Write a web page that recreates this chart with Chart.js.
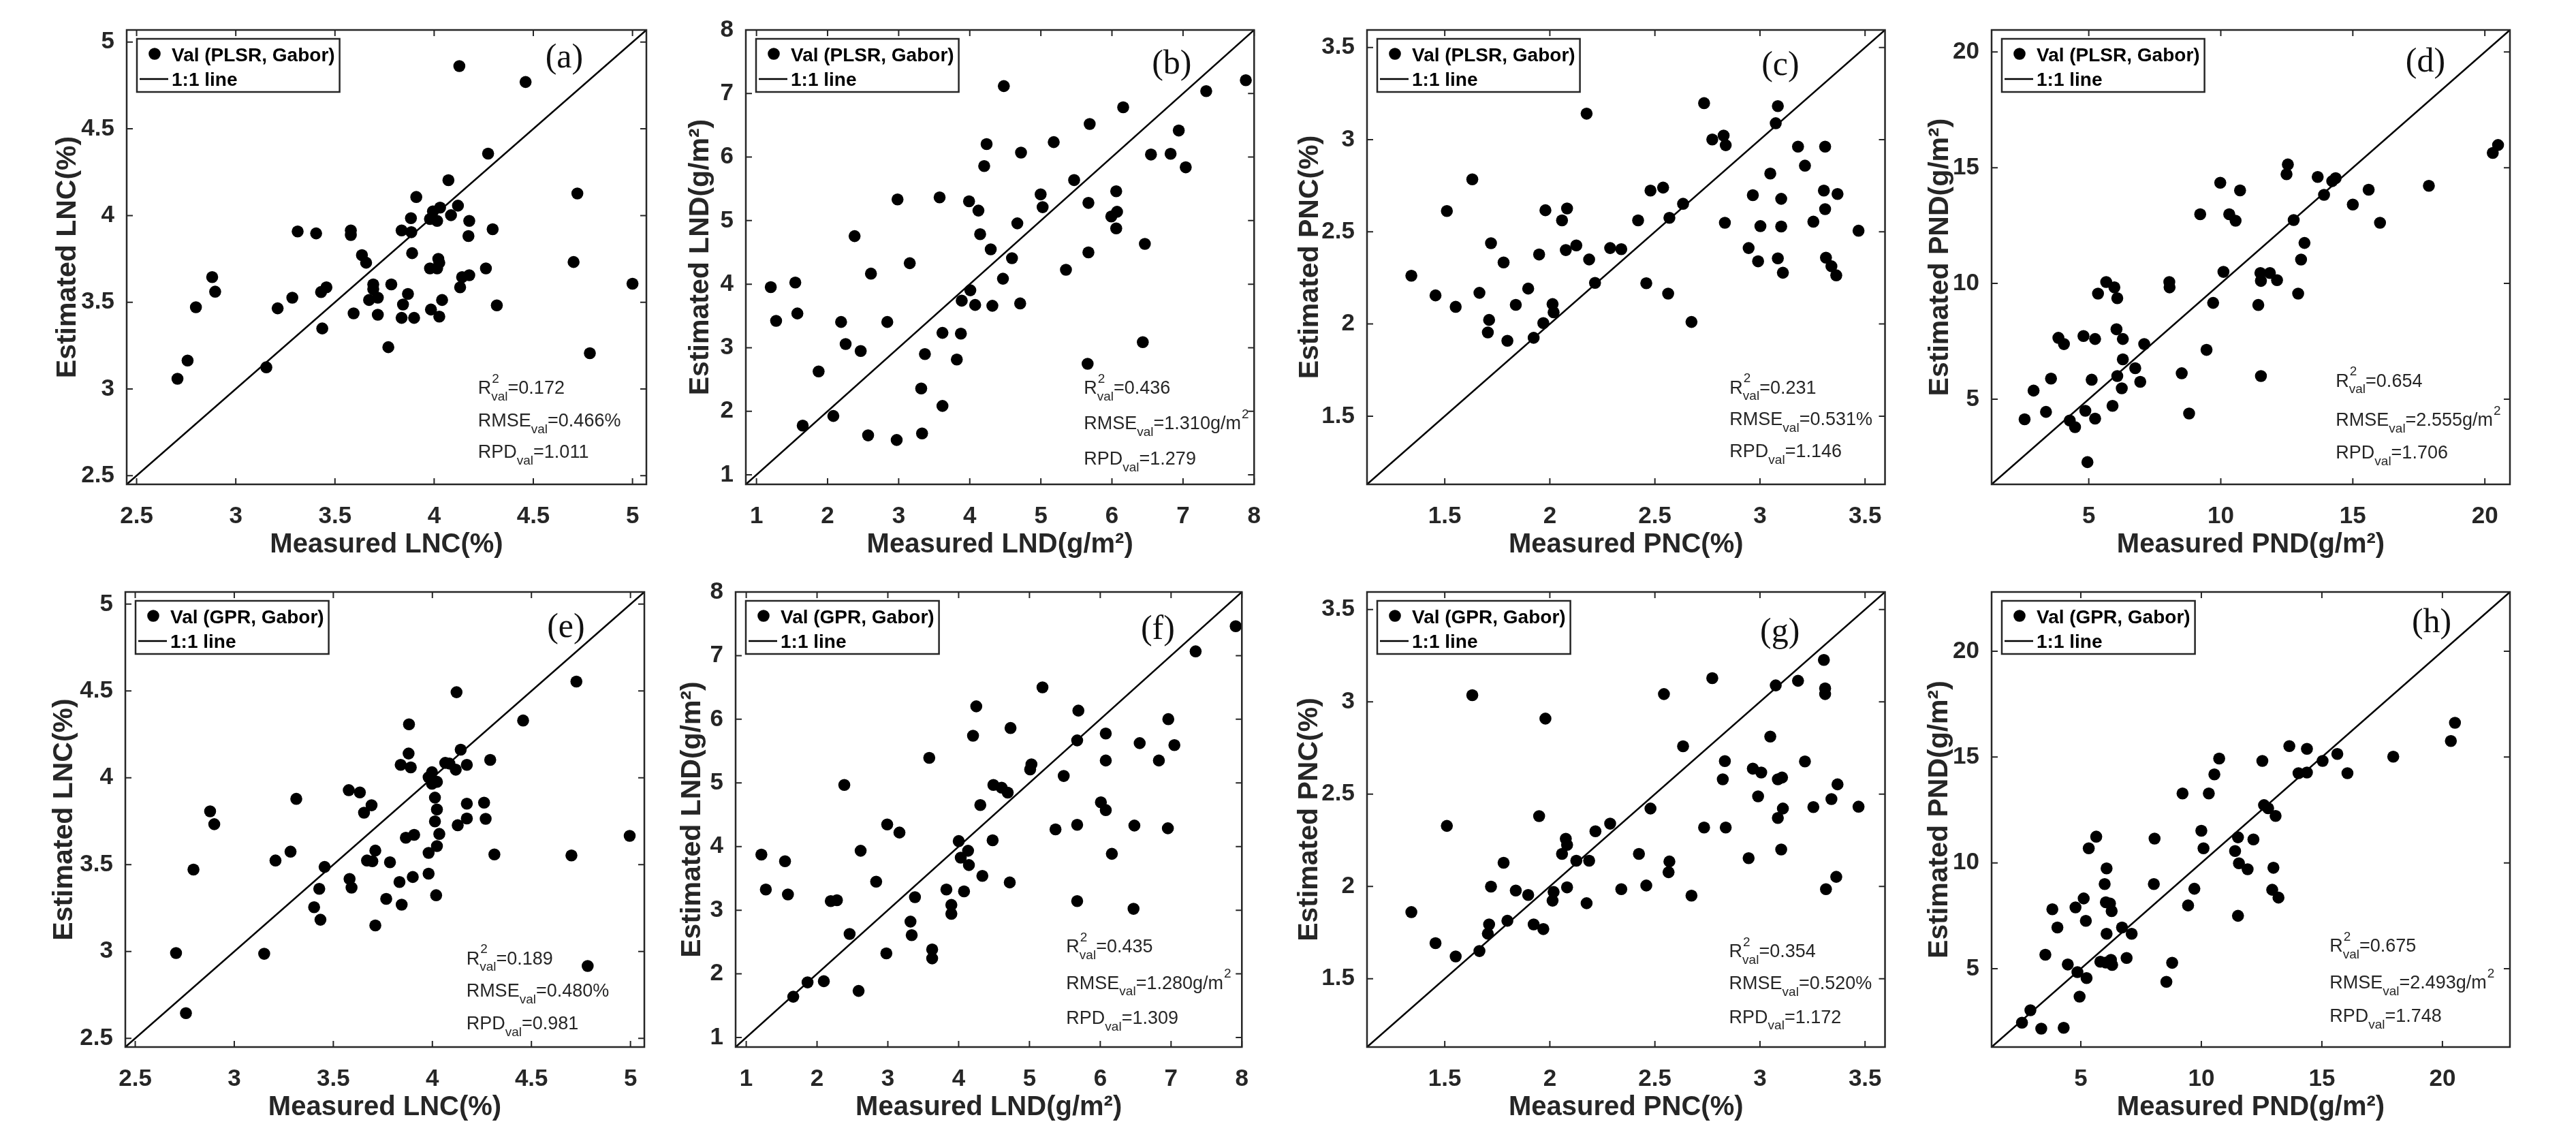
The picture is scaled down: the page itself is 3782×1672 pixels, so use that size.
<!DOCTYPE html>
<html>
<head>
<meta charset="utf-8">
<script src="https://cdn.jsdelivr.net/npm/chart.js@4.4.1/dist/chart.umd.min.js"></script>
<style>
html,body{margin:0;padding:0;background:#fff;}
#wrap{position:relative;width:3782px;height:1672px;background:#fff;overflow:hidden;}
#wrap canvas{position:absolute;}
</style>
</head>
<body>
<div id="wrap"></div>
<script>
// ---------------- DATA ----------------
// (a) LNC, PLSR
const lncMeasPLSR = [4.127,4.461,4.272,4.072,3.910,4.722,4.120,4.030,3.994,4.085,3.979,3.883,4.015,4.177,3.836,3.885,4.295,4.173,3.312,3.405,3.580,3.580,3.889,3.636,3.657,4.021,3.979,4.015,4.026,4.261,4.703,2.881,2.896,2.799,3.211,3.285,3.430,3.457,3.693,3.693,3.784,3.672,3.716,3.868,3.843,3.594,3.716,3.836,3.899,3.984,4.026,4.040,4.131,4.141,4.177,4.316,5.000,3.436,3.769,4.785,3.154,2.757,2.706];
const lncEstPLSR  = [4.862,4.770,4.357,4.204,4.107,4.127,4.057,4.046,4.024,4.002,3.980,3.985,3.969,3.969,3.914,3.904,3.921,3.882,3.908,3.897,3.914,3.888,3.783,3.772,3.728,3.750,3.695,3.695,3.728,3.695,3.732,3.645,3.561,3.471,3.465,3.526,3.559,3.586,3.603,3.575,3.603,3.513,3.526,3.548,3.487,3.436,3.428,3.410,3.410,3.458,3.417,3.513,3.586,3.645,3.656,3.482,3.607,3.349,3.241,3.206,3.125,3.164,3.059];
// (b) LND, PLSR
const lndMeasPLSR = [4.479,7.883,7.326,6.158,5.687,6.940,4.237,5.181,4.721,6.549,6.825,4.203,7.038,5.468,2.984,3.576,3.990,4.997,5.025,4.122,5.669,6.060,5.991,6.072,6.060,4.669,4.146,2.380,4.295,6.463,5.669,4.594,3.156,2.610,5.353,4.467,1.546,1.201,4.008,3.887,4.076,4.318,4.709,1.575,1.276,2.190,2.840,3.616,3.875,2.254,2.466,3.369,3.818,6.434,1.874,3.317,5.658,3.616,2.081,1.650,2.570,3.329,2.972];
const lndEstPLSR  = [7.117,7.209,7.038,6.783,6.521,6.418,6.205,6.235,6.071,6.040,6.052,5.858,5.839,5.638,5.334,5.365,5.304,5.413,5.212,5.158,5.279,5.462,5.066,5.139,4.878,4.957,4.786,4.756,4.549,4.634,4.500,4.409,4.330,4.166,4.226,4.086,4.026,3.953,3.904,3.740,3.673,3.660,3.697,3.539,3.423,3.405,3.405,3.234,3.222,3.058,2.948,2.900,2.814,3.088,2.626,2.358,2.747,2.084,1.926,1.774,1.621,1.652,1.548];
// (c) PNC, PLSR
const pncMeasPLSR = [2.734,2.175,3.085,3.075,2.773,2.827,2.837,3.181,3.310,3.214,3.049,1.631,2.479,2.539,2.966,3.304,3.369,3.101,2.634,3.310,1.510,1.979,2.082,2.058,2.420,2.569,2.833,3.002,3.101,3.254,3.469,1.720,2.076,2.126,1.949,2.287,2.340,2.187,2.946,2.991,3.085,3.314,3.340,3.363,3.109,1.780,1.341,1.456,1.665,1.552,1.838,1.897,2.215,2.459,2.563,1.711,1.705,1.798,1.923,1.969,2.013,2.018,2.674];
const pncEstPLSR  = [3.198,3.141,3.182,3.089,3.001,3.022,2.970,2.962,2.962,2.859,2.816,2.785,2.724,2.740,2.699,2.724,2.705,2.679,2.652,2.623,2.613,2.617,2.627,2.562,2.562,2.576,2.549,2.531,2.529,2.555,2.506,2.438,2.401,2.426,2.377,2.412,2.406,2.350,2.412,2.340,2.356,2.360,2.313,2.264,2.278,2.334,2.262,2.155,2.169,2.093,2.104,2.192,2.223,2.221,2.165,2.022,1.954,1.909,1.925,2.005,2.108,2.063,2.011];
// (d) PND, PLSR
const pndMeasPLSR = [20.3,20.5,12.54,12.49,9.98,13.67,14.22,14.35,15.60,10.73,17.88,13.91,15.00,9.22,10.32,10.56,12.76,16.03,13.17,13.04,10.10,11.50,11.86,11.52,12.13,5.66,5.97,8.05,8.06,5.35,6.08,12.93,9.71,11.42,3.85,4.06,4.80,5.24,6.05,6.29,7.10,6.29,6.76,6.95,6.08,6.25,9.46,8.52,11.52,5.11,3.57,2.91,3.38,4.87,5.90,8.80,2.57,4.28,4.48,5.24,4.95];
const pndEstPLSR  = [15.64,15.98,15.14,14.72,14.35,14.60,14.42,14.55,14.05,14.02,14.22,13.83,13.41,12.99,12.99,12.71,12.74,12.62,11.75,11.03,10.50,10.45,10.45,10.11,10.14,10.06,9.83,10.06,9.83,9.56,9.36,9.56,9.16,9.07,7.65,7.38,7.73,7.60,8.02,7.60,7.38,6.72,6.34,5.75,6.00,5.47,7.13,6.12,6.00,5.84,5.89,5.37,4.45,4.50,4.71,4.38,4.13,4.08,3.79,4.16,2.28];
// (e) LNC, GPR
const lncMeasGPR = [4.122,4.727,4.458,3.882,3.880,4.143,4.292,3.840,3.891,4.065,4.086,4.118,4.174,3.981,3.998,3.998,4.023,3.578,3.634,3.313,3.693,3.655,4.013,4.023,4.013,4.174,4.261,4.174,4.128,4.269,2.878,2.899,3.866,3.908,4.035,4.023,3.981,4.996,4.702,4.313,3.284,3.208,3.712,3.670,3.697,3.786,3.456,2.794,3.582,3.592,3.429,3.834,3.901,3.981,3.767,3.845,4.019,3.403,3.435,3.712,2.706,3.151,4.784,2.756];
const lncEstGPR  = [4.493,4.554,4.330,4.308,4.140,4.162,4.103,4.075,4.060,4.086,4.082,4.047,4.075,4.003,4.032,3.966,3.977,3.929,3.916,3.879,3.842,3.799,3.886,3.818,3.749,3.851,3.857,3.766,3.727,3.764,3.807,3.733,3.655,3.672,3.677,3.607,3.568,3.666,3.553,3.559,3.575,3.524,3.581,3.524,3.520,3.514,3.487,3.472,3.418,3.368,3.361,3.400,3.429,3.448,3.303,3.270,3.324,3.255,3.183,3.150,2.991,2.987,2.917,2.645];
// (f) LND, GPR
const lndMeasGPR = [7.913,7.347,5.184,4.249,5.691,6.961,4.733,4.203,6.078,5.674,6.557,7.047,3.585,5.028,5.010,6.078,6.828,5.484,2.385,4.491,4.607,4.693,4.306,6.009,6.078,2.991,3.164,5.368,5.674,6.482,6.955,2.616,4.001,4.480,4.133,4.030,1.214,1.548,6.164,4.145,4.335,4.722,2.835,1.277,1.589,3.827,4.076,3.383,2.194,2.281,3.897,3.897,5.674,6.470,3.320,3.337,2.460,3.626,3.626,2.979,1.866,2.096,1.664,2.587];
const lndEstGPR  = [7.462,7.067,6.501,6.203,6.136,6.002,5.863,5.741,5.777,5.668,5.625,5.595,5.394,5.291,5.212,5.352,5.352,5.109,4.968,4.968,4.926,4.847,4.652,4.695,4.573,4.348,4.220,4.269,4.342,4.330,4.287,3.934,4.086,4.098,3.934,3.825,3.873,3.770,3.886,3.709,3.539,3.436,3.448,3.326,3.247,3.326,3.296,3.204,3.144,3.156,3.083,2.943,3.144,3.022,2.821,2.608,2.627,2.383,2.243,2.322,1.866,1.884,1.641,1.732];
// (g) PNC, GPR
const pncMeasGPR = [3.304,2.773,3.181,3.075,3.310,3.310,1.631,2.543,1.979,3.049,2.634,2.833,3.214,2.966,3.006,2.823,3.085,3.105,3.369,2.991,3.340,2.479,3.109,3.254,3.469,3.085,1.949,1.510,2.217,2.287,2.734,2.837,2.076,2.082,2.058,2.126,2.187,2.424,2.569,2.565,2.946,3.101,1.780,1.720,1.838,1.897,2.018,2.013,2.082,2.340,2.459,2.674,2.175,3.314,3.363,1.341,1.798,1.711,1.705,1.923,1.969,1.456,1.665,1.552];
const pncEstGPR  = [3.227,3.128,3.114,3.089,3.073,3.042,3.036,3.042,2.909,2.812,2.759,2.679,2.677,2.638,2.617,2.580,2.580,2.590,2.553,2.488,2.473,2.422,2.422,2.430,2.432,2.371,2.381,2.328,2.299,2.340,2.319,2.319,2.258,2.225,2.176,2.139,2.139,2.176,2.135,2.077,2.153,2.200,2.128,1.999,1.978,1.954,1.970,1.923,1.995,1.985,2.005,1.950,1.909,1.985,2.052,1.861,1.814,1.794,1.744,1.794,1.769,1.693,1.650,1.621];
// (h) PND, GPR
const pndMeasGPR = [20.52,20.35,13.65,14.38,15.64,17.96,10.74,12.53,15.03,14.03,14.38,16.06,10.54,9.22,10.31,12.60,12.77,13.08,5.64,8.06,10.00,10.09,11.52,12.16,11.40,5.33,11.56,11.92,12.99,6.07,5.99,8.03,9.71,12.94,13.20,5.12,6.04,6.21,6.28,4.78,3.82,5.21,9.45,11.52,4.03,6.71,7.11,6.07,3.53,5.81,6.04,6.25,6.30,6.90,4.46,4.86,5.24,8.79,8.55,4.95,2.91,2.56,3.36,4.29];
const pndEstGPR  = [16.62,15.76,15.52,15.39,15.15,15.02,14.93,14.82,14.82,14.24,14.27,14.24,14.18,13.28,13.28,12.73,12.58,12.22,11.24,11.15,11.52,10.69,11.21,11.11,10.56,10.69,9.98,9.70,9.77,9.74,9.00,9.00,8.78,8.73,8.36,8.32,8.14,8.08,7.72,7.90,7.81,7.26,7.99,7.50,6.95,6.95,6.65,6.65,5.66,5.33,5.29,5.42,5.18,5.51,5.20,4.84,4.56,5.28,4.38,3.68,3.04,2.45,2.17,2.21];

// axis ranges and ticks
const lncRange = [2.45, 5.07];
const lndRange = [0.85, 8.0];
const pncRange = [1.13, 3.595];
const pndRangePLSR = [1.32, 20.95];
const pndRangeGPR = [1.3, 22.8];
const lncTicks = [2.5, 3, 3.5, 4, 4.5, 5];
const lncTickLabels = ['2.5', '3', '3.5', '4', '4.5', '5'];
const lndTicks = [1, 2, 3, 4, 5, 6, 7, 8];
const lndTickLabels = ['1', '2', '3', '4', '5', '6', '7', '8'];
const pncTicks = [1.5, 2, 2.5, 3, 3.5];
const pncTickLabels = ['1.5', '2', '2.5', '3', '3.5'];
const pndTicks = [5, 10, 15, 20];
const pndTickLabels = ['5', '10', '15', '20'];

// statistics text
const panelIds = ['a', 'b', 'c', 'd', 'e', 'f', 'g', 'h'];
const r2Values = ['0.172', '0.436', '0.231', '0.654', '0.189', '0.435', '0.354', '0.675'];
const rmseValues = ['0.466', '1.310', '0.531', '2.555', '0.480', '1.280', '0.520', '2.493'];
const rmseUnits = ['%', 'g/m2', '%', 'g/m2', '%', 'g/m2', '%', 'g/m2'];
const rpdValues = ['1.011', '1.279', '1.146', '1.706', '0.981', '1.309', '1.172', '1.748'];
const legendNames = ['Val (PLSR, Gabor)', 'Val (PLSR, Gabor)', 'Val (PLSR, Gabor)', 'Val (PLSR, Gabor)',
                     'Val (GPR, Gabor)', 'Val (GPR, Gabor)', 'Val (GPR, Gabor)', 'Val (GPR, Gabor)'];
const lineName = '1:1 line';

// ---------------- LAYOUT / STYLE ----------------
const FF = '"Liberation Sans", Arial, sans-serif';
const SERIF = '"Liberation Serif", "Times New Roman", serif';
const AX = '#262626';
const PAD_T = 12, PAD_R = 12, TITLE_HALF = 20, XTITLE_OFF = 89, TICK_LEN = 9;
const R1T = 25, R1B = 711, R2T = 850, R2B = 1537;

const panelDefs = [
  {mx: lncMeasPLSR, my: lncEstPLSR, range: lncRange, ticks: lncTicks, tl: lncTickLabels, q: 'LNC(%)',
   box: {L: 186, R: 949, T: R1T, B: R1B}, yOff: 86, lab: [0.842, 0.063], st: [0.676, 0.79, 0.862, 0.931]},
  {mx: lndMeasPLSR, my: lndEstPLSR, range: lndRange, ticks: lndTicks, tl: lndTickLabels, q: 'LND(g/m\u00B2)',
   box: {L: 1095, R: 1857, T: R1T, B: R1B}, yOff: 66, lab: [0.838, 0.077], st: [0.665, 0.79, 0.868, 0.945]},
  {mx: pncMeasPLSR, my: pncEstPLSR, range: pncRange, ticks: pncTicks, tl: pncTickLabels, q: 'PNC(%)',
   box: {L: 2007, R: 2769, T: R1T, B: R1B}, yOff: 83, lab: [0.798, 0.079], st: [0.70, 0.789, 0.858, 0.929]},
  {mx: pndMeasPLSR, my: pndEstPLSR, range: pndRangePLSR, ticks: pndTicks, tl: pndTickLabels, q: 'PND(g/m\u00B2)',
   box: {L: 2924, R: 3685, T: R1T, B: R1B}, yOff: 75, lab: [0.837, 0.072], st: [0.664, 0.774, 0.86, 0.932]},
  {mx: lncMeasGPR, my: lncEstGPR, range: lncRange, ticks: lncTicks, tl: lncTickLabels, q: 'LNC(%)',
   box: {L: 184, R: 946, T: R2T, B: R2B}, yOff: 89, lab: [0.849, 0.079], st: [0.657, 0.807, 0.878, 0.95]},
  {mx: lndMeasGPR, my: lndEstGPR, range: lndRange, ticks: lndTicks, tl: lndTickLabels, q: 'LND(g/m\u00B2)',
   box: {L: 1080, R: 1839, T: R2T, B: R2B}, yOff: 63, lab: [0.834, 0.083], st: [0.653, 0.781, 0.861, 0.938]},
  {mx: pncMeasGPR, my: pncEstGPR, range: pncRange, ticks: pncTicks, tl: pncTickLabels, q: 'PNC(%)',
   box: {L: 2007, R: 2769, T: R2T, B: R2B}, yOff: 84, lab: [0.797, 0.089], st: [0.699, 0.791, 0.862, 0.936]},
  {mx: pndMeasGPR, my: pndEstGPR, range: pndRangeGPR, ticks: pndTicks, tl: pndTickLabels, q: 'PND(g/m\u00B2)',
   box: {L: 2924, R: 3685, T: R2T, B: R2B}, yOff: 76, lab: [0.849, 0.068], st: [0.652, 0.779, 0.86, 0.934]}
];

function drawRich(ctx, x, y, parts) {
  let cx = x;
  for (const p of parts) {
    if (p.k === 'n') {
      ctx.font = '27px ' + FF;
      ctx.fillText(p.t, cx, y);
      cx += ctx.measureText(p.t).width;
    } else if (p.k === 'stack') {
      ctx.font = '19px ' + FF;
      let w = 0;
      if (p.sup) { ctx.fillText(p.sup, cx + 1, y - 14); w = ctx.measureText(p.sup).width + 1; }
      if (p.sub) { ctx.fillText(p.sub, cx, y + 12); w = Math.max(w, ctx.measureText(p.sub).width); }
      cx += w;
    }
  }
}

function unitParts(u) {
  if (u === 'g/m2') return [{t: 'g/m', k: 'n'}, {k: 'stack', sup: '2'}];
  return [{t: u, k: 'n'}];
}

const decor = {
  id: 'decor',
  afterDatasetsDraw(chart, args, opts) {
    const {ctx, chartArea: a, scales} = chart;
    const xs = scales.x, ys = scales.y;
    const i = opts.index, p = panelDefs[i];
    const w = a.right - a.left, h = a.bottom - a.top;
    ctx.save();
    // axes box
    ctx.strokeStyle = AX;
    ctx.lineWidth = 2.5;
    ctx.strokeRect(a.left, a.top, w, h);
    // inward ticks on all four sides
    ctx.lineWidth = 2;
    ctx.beginPath();
    xs.ticks.forEach(t => {
      const px = xs.getPixelForValue(t.value);
      ctx.moveTo(px, a.bottom); ctx.lineTo(px, a.bottom - TICK_LEN);
      ctx.moveTo(px, a.top); ctx.lineTo(px, a.top + TICK_LEN);
    });
    ys.ticks.forEach(t => {
      const py = ys.getPixelForValue(t.value);
      ctx.moveTo(a.left, py); ctx.lineTo(a.left + TICK_LEN, py);
      ctx.moveTo(a.right, py); ctx.lineTo(a.right - TICK_LEN, py);
    });
    ctx.stroke();

    // legend (labels taken from the datasets)
    const ds = chart.data.datasets;
    const lx = a.left + 15, ly = a.top + 13;
    ctx.font = 'bold 28px ' + FF;
    const tw = Math.max(ctx.measureText(ds[0].label).width, ctx.measureText(ds[1].label).width);
    const lw = 52 + tw + 6, lh = 78;
    ctx.fillStyle = '#fff';
    ctx.fillRect(lx, ly, lw, lh);
    ctx.strokeStyle = AX;
    ctx.lineWidth = 2.5;
    ctx.strokeRect(lx, ly, lw, lh);
    ctx.fillStyle = '#000';
    ctx.beginPath();
    ctx.arc(lx + 26, ly + 22, 8.8, 0, Math.PI * 2);
    ctx.fill();
    ctx.strokeStyle = '#000';
    ctx.lineWidth = 2.5;
    ctx.beginPath();
    ctx.moveTo(lx + 4, ly + 59); ctx.lineTo(lx + 46, ly + 59);
    ctx.stroke();
    ctx.textAlign = 'left';
    ctx.textBaseline = 'middle';
    ctx.fillStyle = '#000';
    ctx.fillText(ds[0].label, lx + 51, ly + 25);
    ctx.fillText(ds[1].label, lx + 51, ly + 61);

    // panel label
    ctx.font = '50px ' + SERIF;
    ctx.textAlign = 'center';
    ctx.fillStyle = '#111';
    ctx.fillText('(' + panelIds[i] + ')', a.left + p.lab[0] * w, a.top + p.lab[1] * h);

    // statistics
    ctx.textAlign = 'left';
    ctx.fillStyle = AX;
    const sx = a.left + p.st[0] * w;
    drawRich(ctx, sx, a.top + p.st[1] * h, [{t: 'R', k: 'n'}, {k: 'stack', sup: '2', sub: 'val'}, {t: '=' + r2Values[i], k: 'n'}]);
    drawRich(ctx, sx, a.top + p.st[2] * h, [{t: 'RMSE', k: 'n'}, {k: 'stack', sub: 'val'}, {t: '=' + rmseValues[i], k: 'n'}].concat(unitParts(rmseUnits[i])));
    drawRich(ctx, sx, a.top + p.st[3] * h, [{t: 'RPD', k: 'n'}, {k: 'stack', sub: 'val'}, {t: '=' + rpdValues[i], k: 'n'}]);
    ctx.restore();
  }
};

const wrap = document.getElementById('wrap');
panelDefs.forEach((p, i) => {
  const b = p.box;
  const yAxisW = p.yOff + TITLE_HALF;
  const xAxisH = XTITLE_OFF + TITLE_HALF;
  const left = b.L - yAxisW;
  const top = b.T - PAD_T;
  const width = b.R + PAD_R - left;
  const height = b.B + xAxisH - top;
  const cv = document.createElement('canvas');
  cv.width = width; cv.height = height;
  cv.style.left = left + 'px'; cv.style.top = top + 'px';
  cv.style.width = width + 'px'; cv.style.height = height + 'px';
  wrap.appendChild(cv);

  const tickFont = {family: FF, size: 35, weight: 'bold', lineHeight: 1.2};
  const xTitleFont = {family: FF, size: 40, weight: 'bold', lineHeight: 1};
  const yTitleFont = {family: FF, size: 41, weight: 'bold', lineHeight: 40 / 41};
  const fmt = (v) => { const k = p.ticks.indexOf(v); return k >= 0 ? p.tl[k] : ''; };

  new Chart(cv, {
    type: 'scatter',
    data: {
      datasets: [
        {label: legendNames[i], data: p.mx.map((v, k) => ({x: v, y: p.my[k]})),
         pointRadius: 8.8, pointHoverRadius: 8.8, pointBackgroundColor: '#000', pointBorderWidth: 0, clip: false},
        {label: lineName, data: [{x: p.range[0], y: p.range[0]}, {x: p.range[1], y: p.range[1]}],
         showLine: true, borderColor: '#000', borderWidth: 2.5, pointRadius: 0, fill: false}
      ]
    },
    options: {
      responsive: false, animation: false, devicePixelRatio: 1,
      layout: {padding: {top: PAD_T, right: PAD_R, left: 0, bottom: 0}},
      plugins: {legend: {display: false}, tooltip: {enabled: false}, decor: {index: i}},
      scales: {
        x: {
          type: 'linear', position: 'bottom', min: p.range[0], max: p.range[1],
          grid: {display: false}, border: {display: false},
          afterBuildTicks: (s) => { s.ticks = p.ticks.map(v => ({value: v})); },
          afterFit: (s) => { s.height = xAxisH; },
          ticks: {autoSkip: false, maxRotation: 0, minRotation: 0, padding: 18, color: AX, font: tickFont, callback: fmt},
          title: {display: true, text: 'Measured ' + p.q, color: AX, padding: 0, font: xTitleFont}
        },
        y: {
          type: 'linear', position: 'left', min: p.range[0], max: p.range[1],
          grid: {display: false}, border: {display: false},
          afterBuildTicks: (s) => { s.ticks = p.ticks.map(v => ({value: v})); },
          afterFit: (s) => { s.width = yAxisW; },
          ticks: {autoSkip: false, padding: 10, color: AX, font: tickFont, callback: fmt},
          title: {display: true, text: 'Estimated ' + p.q, color: AX, padding: 0, font: yTitleFont}
        }
      }
    },
    plugins: [decor]
  });
});
</script>
</body>
</html>
